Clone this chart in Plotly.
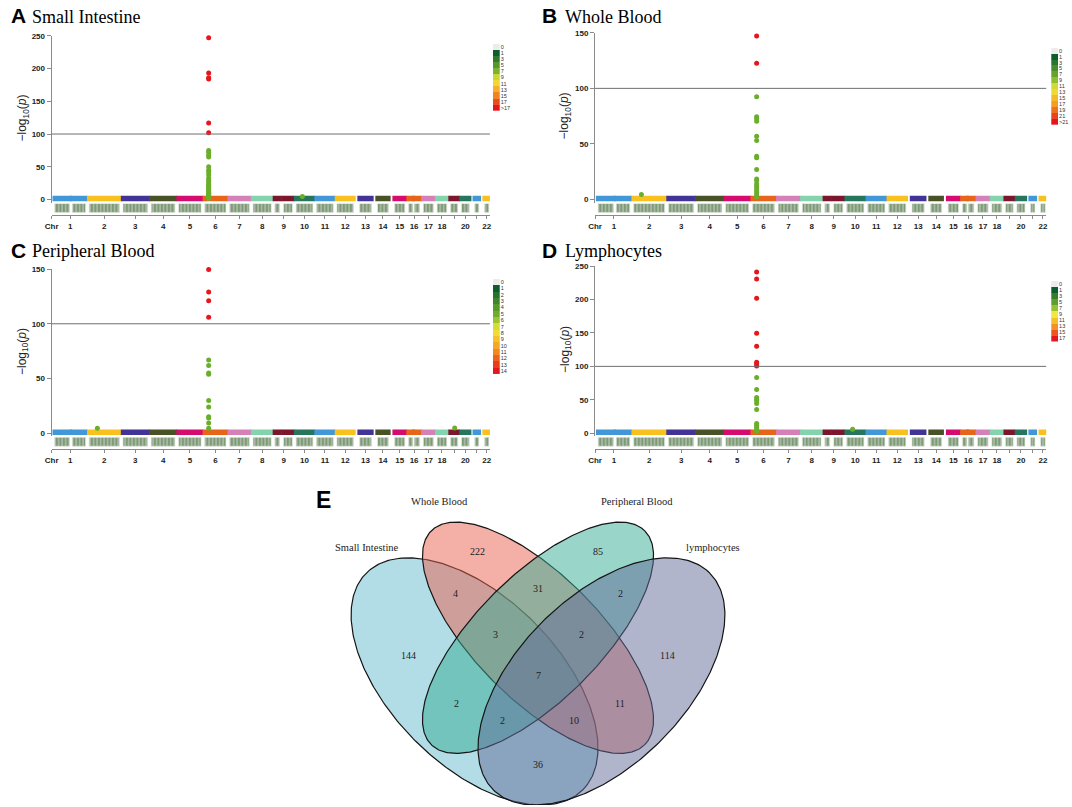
import numpy as np
import plotly.graph_objects as go

# ======================= DATA =======================
CHR_TICK_TEXT = ["1", "2", "3", "4", "5", "6", "7", "8", "9", "10", "11", "12",
                 "13", "14", "15", "16", "17", "18", "", "20", "", "22"]
CHR_LEN_MB = [249.25, 243.2, 198.0, 191.15, 180.9, 171.1, 159.1, 146.4, 141.2, 135.5, 135.0,
              133.9, 115.2, 107.3, 102.5, 90.4, 81.2, 78.1, 59.1, 63.0, 48.1, 51.3]
CHR_FIRST_MB = [0.8, 0.0, 0.1, 0.1, 0.1, 0.2, 0.1, 0.2, 0.2, 0.1, 0.2, 0.2,
                19.0, 19.1, 20.0, 0.1, 0.1, 0.1, 0.3, 0.1, 14.5, 16.1]
CHR_GAP_CHROM = [1, 9, 16]
CHR_GAP_START_MB = [121.5, 39.0, 35.3]
CHR_GAP_END_MB = [142.5, 70.5, 46.4]

PEAK_CHR = 6
PEAK_POS_MB = 31.8

# Small Intestine
SI_RED = [247, 193, 186, 184, 117, 102]
SI_GREEN = [75, 72, 68, 65, 50, 45, 42, 38, 33, 30, 27, 24, 22, 20, 18, 16, 14.5, 13, 11,
            9.5, 8, 7, 5.5, 4.5, 3, 2]
SI_EXTRA_CHR = [10]
SI_EXTRA_POS = [51.0]
SI_EXTRA_VAL = [4.5]
SI_LEGEND = ["0", "1", "3", "5", "7", "9", "11", "13", "15", "17", ">17"]

# Whole Blood
WB_RED = [147, 122.5]
WB_GREEN = [92.5, 74.5, 73, 70.5, 57, 53, 39, 37.5, 27, 18.5, 17, 14, 12, 10, 8, 6, 4, 2.5]
WB_EXTRA_CHR = [2]
WB_EXTRA_POS = [61.0]
WB_EXTRA_VAL = [4.5]
WB_LEGEND = ["0", "1", "3", "5", "7", "9", "11", "13", "15", "17", "19", "21", ">21"]

# Peripheral Blood
PB_RED = [149.5, 129, 121, 106]
PB_GREEN = [67, 62, 55, 54, 30, 24, 15, 14, 9.5, 4.5]
PB_EXTRA_CHR = [2, 19]
PB_EXTRA_POS = [66.0, 34.0]
PB_EXTRA_VAL = [4.5, 4.8]
PB_LEGEND = ["0", "1", "2", "3", "4", "5", "6", "7", "8", "9", "10", "11", "12", "13", "14"]

# Lymphocytes
LY_RED = [241, 230.5, 202, 149.5, 130, 106, 103.5, 100.5]
LY_GREEN = [83.5, 65.5, 53.5, 50.5, 48.5, 44.5, 35.5, 14.5, 12, 9, 6, 3]
LY_EXTRA_CHR = [10]
LY_EXTRA_POS = [47.0]
LY_EXTRA_VAL = [6.0]
LY_LEGEND = ["0", "1", "3", "5", "7", "9", "11", "13", "15", "17"]

THRESHOLD = 100

# Venn
VENN_SETS = ["Small Intestine", "Whole Blood", "Peripheral Blood", "lymphocytes"]
VENN_REGIONS = ["SI", "WB", "PB", "LY", "SI&WB", "WB&PB", "PB&LY", "SI&PB", "WB&LY",
                "SI&LY", "SI&WB&PB", "WB&PB&LY", "SI&PB&LY", "SI&WB&LY", "SI&WB&PB&LY"]
VENN_COUNTS = [144, 222, 85, 114, 4, 31, 2, 2, 11, 36, 3, 2, 2, 10, 7]

# ======================= STYLE / LAYOUT =======================
W, H = 1072, 807
CHR_COLS = ["#4197d8", "#f8c120", "#413496", "#495226", "#d60b6f",
            "#e66519", "#d581b7", "#83d3ad", "#7c162c", "#26755d"]
RED = "#e8161b"
GREEN = "#6aaf2c"
AXC = "#8a8a8a"
CHR_GAP_UNITS = 29.5
SANS = "Liberation Sans, Arial, sans-serif"
SERIF = "Liberation Serif, Times New Roman, serif"


def fx(xp):
    return xp / W


def fy(yp):
    return 1 - yp / H


offsets = []
acc = 0.0
for L in CHR_LEN_MB:
    offsets.append(acc)
    acc += L + CHR_GAP_UNITS
TOTAL = offsets[-1] + CHR_LEN_MB[-1]


def chr_segments(i):
    a, b = CHR_FIRST_MB[i], CHR_LEN_MB[i]
    c = i + 1
    if c in CHR_GAP_CHROM:
        k = CHR_GAP_CHROM.index(c)
        return [(a, CHR_GAP_START_MB[k]), (CHR_GAP_END_MB[k], b)]
    return [(a, b)]


tick_centers = [offsets[i] + (CHR_FIRST_MB[i] + CHR_LEN_MB[i]) / 2 for i in range(22)]


def ramp(n):
    anchors = [(0.0, (13, 94, 46)), (0.33, (120, 178, 44)), (0.5, (240, 232, 58)),
               (0.72, (245, 160, 35)), (1.0, (228, 22, 30))]
    out = []
    for k in range(n):
        t = k / max(n - 1, 1)
        for j in range(len(anchors) - 1):
            t0, c0 = anchors[j]
            t1, c1 = anchors[j + 1]
            if t0 <= t <= t1:
                f = (t - t0) / (t1 - t0)
                c = [round(c0[m] + f * (c1[m] - c0[m])) for m in range(3)]
                out.append("rgb(%d,%d,%d)" % tuple(c))
                break
    return out


PANELS = [
    dict(letter="A", title="Small Intestine", red=SI_RED, green=SI_GREEN,
         ex=(SI_EXTRA_CHR, SI_EXTRA_POS, SI_EXTRA_VAL), legend=SI_LEGEND, ymax=250,
         x0=45, x1=487, top=32, zero=197, strip=(201, 213), cb=(490, 497, 40, 108),
         lx=2, ly=12, tx=23, yt=16),
    dict(letter="B", title="Whole Blood", red=WB_RED, green=WB_GREEN,
         ex=(WB_EXTRA_CHR, WB_EXTRA_POS, WB_EXTRA_VAL), legend=WB_LEGEND, ymax=150,
         x0=593, x1=1048, top=29, zero=197, strip=(201, 213), cb=(1053, 1060, 44, 122),
         lx=538, ly=12, tx=561, yt=563),
    dict(letter="C", title="Peripheral Blood", red=PB_RED, green=PB_GREEN,
         ex=(PB_EXTRA_CHR, PB_EXTRA_POS, PB_EXTRA_VAL), legend=PB_LEGEND, ymax=150,
         x0=45, x1=487, top=267, zero=432.5, strip=(436.5, 448.5), cb=(490, 497, 277, 373),
         lx=2, ly=248, tx=23, yt=16),
    dict(letter="D", title="Lymphocytes", red=LY_RED, green=LY_GREEN,
         ex=(LY_EXTRA_CHR, LY_EXTRA_POS, LY_EXTRA_VAL), legend=LY_LEGEND, ymax=250,
         x0=593, x1=1048, top=264, zero=432.5, strip=(436.5, 448.5), cb=(1053, 1060, 279, 340),
         lx=538, ly=248, tx=561, yt=563),
]

fig = go.Figure()
layout = dict(width=W, height=H, margin=dict(l=0, r=0, t=0, b=0),
              paper_bgcolor="white", plot_bgcolor="white", showlegend=False)
annotations = []
shapes = []


def ax_name(n, kind):
    return kind + ("" if n == 1 else str(n))


for p, P in enumerate(PANELS):
    nm, ns, nc = 3 * p + 1, 3 * p + 2, 3 * p + 3
    xm, ym = ax_name(nm, "x"), ax_name(nm, "y")
    xs, ys = ax_name(ns, "x"), ax_name(ns, "y")
    xc, yc = ax_name(nc, "x"), ax_name(nc, "y")

    s = (P["x1"] - P["x0"] - 4) / TOTAL
    xr = [-3 / s, TOTAL + 1 / s]
    ppu = (P["zero"] - P["top"]) / P["ymax"]
    pad = 3.0
    yr = [-pad / ppu, P["ymax"]]
    ext = 2.2 / s  # marker radius overhang of the SNP bands

    layout[ax_name(nm, "xaxis")] = dict(domain=[fx(P["x0"]), fx(P["x1"])], range=xr,
                                         visible=False, anchor=ym)
    layout[ax_name(nm, "yaxis")] = dict(
        domain=[fy(P["zero"] + pad), fy(P["top"])], range=yr, anchor=xm,
        showline=True, linecolor=AXC, linewidth=1, ticks="outside", ticklen=4,
        tickcolor=AXC, tickvals=list(range(0, P["ymax"] + 1, 50)),
        tickfont=dict(family=SANS, size=8, color="#222", weight="bold"),
        showgrid=False, zeroline=False)

    # chromosome bands (background SNPs)
    blob_y = 1.0 / ppu
    for i in range(22):
        xs_l, ys_l = [], []
        for a, b in chr_segments(i):
            xs_l += [offsets[i] + a - ext, offsets[i] + b + ext, None]
            ys_l += [blob_y, blob_y, None]
        fig.add_trace(go.Scatter(x=xs_l, y=ys_l, mode="lines",
                                 line=dict(color=CHR_COLS[i % 10], width=5.5),
                                 xaxis=xm, yaxis=ym, hoverinfo="skip"))
    ec, epos, ev = P["ex"]
    fig.add_trace(go.Scatter(x=[offsets[c - 1] + q for c, q in zip(ec, epos)], y=ev,
                             mode="markers", marker=dict(color=GREEN, size=5),
                             xaxis=xm, yaxis=ym, cliponaxis=False, hoverinfo="skip"))
    peak_x = offsets[PEAK_CHR - 1] + PEAK_POS_MB
    fig.add_trace(go.Scatter(x=[peak_x] * len(P["green"]), y=P["green"], mode="markers",
                             marker=dict(color=GREEN, size=5), xaxis=xm, yaxis=ym,
                             cliponaxis=False, hoverinfo="skip"))
    fig.add_trace(go.Scatter(x=[peak_x] * len(P["red"]), y=P["red"], mode="markers",
                             marker=dict(color=RED, size=5), xaxis=xm, yaxis=ym,
                             cliponaxis=False, hoverinfo="skip"))
    shapes.append(dict(type="line", xref=xm + " domain", yref=ym, x0=0, x1=1,
                       y0=THRESHOLD, y1=THRESHOLD, line=dict(color="#6f6f6f", width=1)))

    # density strip + chromosome axis
    bx, bw = [], []
    for i in range(22):
        for a, b in chr_segments(i):
            bx.append(offsets[i] + (a + b) / 2)
            bw.append(b - a)
    fig.add_trace(go.Bar(x=bx, y=[9] * len(bx), base=3, width=bw, xaxis=xs, yaxis=ys,
                         marker=dict(color="#aab5a7", line=dict(width=0.6, color="#dfe6dc"),
                                     pattern=dict(shape="|", fgcolor="#4a883b", size=3.5,
                                                  solidity=0.5, fillmode="overlay")),
                         hoverinfo="skip"))
    layout[ax_name(ns, "xaxis")] = dict(
        domain=[fx(P["x0"]), fx(P["x1"])], range=xr, anchor=ys,
        showline=True, linecolor=AXC, linewidth=1, ticks="outside", ticklen=3,
        tickcolor=AXC, tickvals=[xr[0]] + tick_centers, ticktext=["Chr"] + CHR_TICK_TEXT,
        tickangle=0, tickfont=dict(family=SANS, size=8, color="#222", weight="bold"),
        showgrid=False, zeroline=False)
    layout[ax_name(ns, "yaxis")] = dict(domain=[fy(P["strip"][1]), fy(P["strip"][0])],
                                         range=[0, 12], visible=False, anchor=xs)

    # SNP density legend
    n = len(P["legend"])
    cols = ["#ececec"] + ramp(n - 1)
    cs = []
    for k, c in enumerate(cols):
        cs.append([k / n, c])
        cs.append([(k + 1) / n, c])
    fig.add_trace(go.Heatmap(z=[[k] for k in range(n)], x=[0], y=list(range(n)),
                             colorscale=cs, zmin=-0.5, zmax=n - 0.5, showscale=False,
                             xaxis=xc, yaxis=yc, hoverinfo="skip"))
    cb = P["cb"]
    layout[ax_name(nc, "xaxis")] = dict(domain=[fx(cb[0]), fx(cb[1])], visible=False,
                                         anchor=yc, range=[-0.5, 0.5])
    layout[ax_name(nc, "yaxis")] = dict(domain=[fy(cb[3]), fy(cb[2])],
                                         range=[n - 0.5, -0.5], side="right", anchor=xc,
                                         tickmode="array", tickvals=list(range(n)),
                                         ticktext=P["legend"], showline=False, ticks="",
                                         showgrid=False, zeroline=False,
                                         tickfont=dict(family=SANS, size=5.5, color="#333"))

    # titles
    annotations.append(dict(x=fx(P["lx"]), y=fy(P["ly"]), xref="paper", yref="paper",
                            text="<b>%s</b>" % P["letter"], showarrow=False,
                            xanchor="left", yanchor="middle",
                            font=dict(family=SANS, size=21, color="black")))
    annotations.append(dict(x=fx(P["tx"]), y=fy(P["ly"] + 1), xref="paper", yref="paper",
                            text=P["title"], showarrow=False, xanchor="left",
                            yanchor="middle", font=dict(family=SERIF, size=18, color="black")))
    annotations.append(dict(x=fx(P["yt"]), y=fy((P["top"] + P["zero"]) / 2), xref="paper",
                            yref="paper", text="\u2212log<sub>10</sub>(<i>p</i>)",
                            showarrow=False, textangle=-90, xanchor="center",
                            yanchor="middle", font=dict(family=SANS, size=12, color="#222")))

# ======================= VENN =======================
VX0, VX1, VY0, VY1 = 300, 780, 480, 807
layout["xaxis13"] = dict(domain=[fx(VX0 - 6), fx(VX1 - 6)], range=[VX0, VX1], visible=False,
                         anchor="y13")
layout["yaxis13"] = dict(domain=[fy(VY1), fy(VY0)], range=[VY1, VY0], visible=False,
                         anchor="x13")

ELLIPSES = [  # cx, cy, a, b, angle(deg, screen), fill
    (477.5, 682.5, 154.4, 84.6, 45, "rgba(103,187,205,0.5)"),
    (541.5, 638.5, 152.3, 62.9, 45, "rgba(233,97,77,0.5)"),
    (541.5, 638.5, 152.3, 62.9, -45, "rgba(51,171,147,0.5)"),
    (605.5, 682.5, 154.4, 84.6, -45, "rgba(97,107,153,0.5)"),
]
t = np.linspace(0, 2 * np.pi, 361)
for cx, cy, a, b, ang, fc in ELLIPSES:
    ca, sa = np.cos(np.radians(ang)), np.sin(np.radians(ang))
    ex = cx + a * np.cos(t) * ca - b * np.sin(t) * sa
    ey = cy + a * np.cos(t) * sa + b * np.sin(t) * ca
    fig.add_trace(go.Scatter(x=ex, y=ey, mode="lines", fill="toself", fillcolor=fc,
                             line=dict(color="#151515", width=1.2), xaxis="x13",
                             yaxis="y13", hoverinfo="skip"))

SET_LABEL_POS = [(369, 548, "center"), (442, 501, "center"), (641, 501, "center"),
                 (689, 548, "left")]
for name, (lx, ly, anc) in zip(VENN_SETS, SET_LABEL_POS):
    annotations.append(dict(x=lx, y=ly, xref="x13", yref="y13", text=name,
                            showarrow=False, xanchor=anc, yanchor="middle",
                            font=dict(family=SERIF, size=10.5, color="#222")))

REGION_POS = {"SI": (411, 656.5), "WB": (480.5, 551.5), "PB": (602.5, 551.5),
              "LY": (672.5, 656.5), "SI&WB": (458.5, 593.5), "WB&PB": (541.5, 588.5),
              "PB&LY": (625, 593.5), "SI&PB": (459.5, 705), "WB&LY": (624, 705),
              "SI&LY": (541.5, 766.5), "SI&WB&PB": (498.5, 635), "WB&PB&LY": (585, 635),
              "SI&PB&LY": (506, 721.5), "SI&WB&LY": (577.5, 721.5),
              "SI&WB&PB&LY": (541.5, 676.5)}
for reg, cnt in zip(VENN_REGIONS, VENN_COUNTS):
    rx, ry = REGION_POS[reg]
    annotations.append(dict(x=rx, y=ry, xref="x13", yref="y13", text=str(cnt),
                            showarrow=False, xanchor="center", yanchor="middle",
                            font=dict(family=SERIF, size=10, color="#222")))

annotations.append(dict(x=fx(310), y=fy(500), xref="paper", yref="paper", text="<b>E</b>",
                        showarrow=False, xanchor="left", yanchor="middle",
                        font=dict(family=SANS, size=23, color="black")))

layout["annotations"] = annotations
layout["shapes"] = shapes
fig.update_layout(**layout)
fig.write_html("out.html", config={"displayModeBar": False, "staticPlot": True},
               post_script="document.body.style.margin='0px';"
                           "document.body.style.overflow='hidden';")
